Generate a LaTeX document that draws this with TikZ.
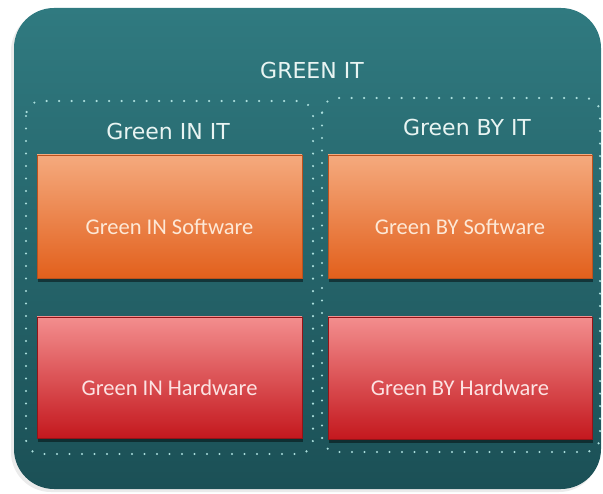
\documentclass[tikz,border=0pt]{standalone}
\usepackage{fontspec}
\setmainfont{Carlito}
\newfontfamily\titlefont{DejaVu Sans}
\usepackage{tikz}
\usetikzlibrary{shadows}
\usetikzlibrary{positioning}
\definecolor{petrol}{RGB}{48, 122, 128}
\definecolor{deeppetrol}{RGB}{27, 80, 86}
\definecolor{dotcyan}{RGB}{170, 222, 220}
\definecolor{peach}{RGB}{245, 170, 126}
\definecolor{pumpkin}{RGB}{226, 96, 28}
\definecolor{rust}{RGB}{186, 82, 30}
\definecolor{salmon}{RGB}{243, 142, 142}
\definecolor{crimson}{RGB}{196, 24, 30}
\definecolor{darkcrimson}{RGB}{146, 20, 24}
\definecolor{frost}{RGB}{232, 244, 242}
\definecolor{peachtext}{RGB}{253, 232, 214}
\definecolor{rosetext}{RGB}{252, 226, 226}

\tikzset{
    grouprim/.style   = {dotcyan, line width=2.4pt, line cap=round, dash pattern=on 0pt off 12.5pt, rounded corners=15pt},
    titletext/.style  = {text=frost, font=\titlefont\fontsize{22}{26}\selectfont},
    tile/.style       = {line width=0.7pt, inner sep=0pt, text height=36pt, text depth=0pt,
                         font=\fontsize{22.5}{27}\selectfont,
                         drop shadow={shadow xshift=1pt, shadow yshift=-4pt, opacity=0.45, fill=black}},
    softtile/.style   = {tile, draw=rust, top color=peach, bottom color=pumpkin, text=peachtext},
    hardtile/.style   = {tile, draw=darkcrimson, top color=salmon, bottom color=crimson, text=rosetext}
}

\begin{document}
\begin{tikzpicture}[x=1pt, y=-1pt]
    \useasboundingbox (0,0) rectangle (603,494);
    % frame
    \fill[black!20, opacity=0.4, rounded corners=40pt] (11,11) rectangle (599,492);
    \shade[top color=petrol, bottom color=deeppetrol, rounded corners=40pt] (14,8) rectangle (601,489);
    \node[titletext] (greenit) at (312,70) {GREEN IT};
    % dotted groups
    \draw[grouprim] (26,101) rectangle (313,454);
    \draw[grouprim] (322,98) rectangle (600,452);
    \node[titletext] (greenin) at (168,131) {Green IN IT};
    \node[titletext] (greenby) at (467,127) {Green BY IT};
    % tiles
    \node[softtile, minimum width=265, minimum height=123] (insoft) at (169.5,216.5) {Green IN Software};
    \node[softtile, minimum width=264, minimum height=123] (bysoft) at (460,216.5)   {Green BY Software};
    \node[hardtile, minimum width=265, minimum height=121] (inhard) at (169.5,377.5) {Green IN Hardware};
    \node[hardtile, minimum width=264, minimum height=122] (byhard) at (460,378)     {Green BY Hardware};
\end{tikzpicture}
\end{document}
